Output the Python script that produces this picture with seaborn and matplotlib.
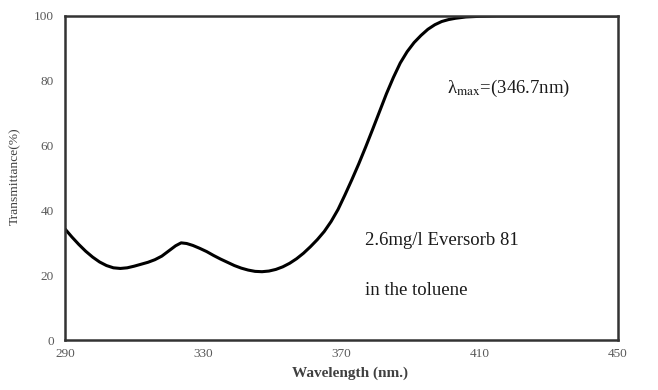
import matplotlib
matplotlib.use('Agg')
import matplotlib.pyplot as plt
import seaborn as sns
import pandas as pd

# Transmittance curve
wavelength = [290, 292, 294, 296, 298, 300, 302, 304, 306, 308, 310, 312, 314,
              316, 318, 320, 322, 323.6, 325.2, 327, 329, 331, 333, 335, 337, 339,
              341, 343, 345, 347, 349, 351, 353, 355, 357, 359, 361, 363, 365,
              367, 369, 371, 373, 375, 377, 379, 381, 383, 385, 387, 389, 391,
              393, 395, 397, 399, 401, 403, 406, 410, 415, 430, 450]
transmittance = [34.3, 31.8, 29.5, 27.4, 25.6, 24.1, 23.0, 22.3, 22.1, 22.3, 22.8,
                 23.4, 24.0, 24.8, 25.9, 27.5, 29.1, 30.0, 29.8, 29.2, 28.3, 27.3,
                 26.1, 25.0, 24.0, 23.0, 22.2, 21.6, 21.2, 21.1, 21.3, 21.8, 22.6,
                 23.7, 25.1, 26.8, 28.8, 31.0, 33.5, 36.6, 40.3, 44.8, 49.5, 54.4,
                 59.6, 65.0, 70.5, 76.0, 81.0, 85.5, 89.0, 91.8, 94.0, 95.9, 97.3,
                 98.3, 98.9, 99.3, 99.7, 99.9, 100, 100, 100]
x_ticks = [290, 330, 370, 410, 450]
y_ticks = [0, 20, 40, 60, 80, 100]

df = pd.DataFrame({'wavelength': wavelength, 'transmittance': transmittance})

sns.set_style('white')
plt.rcParams['font.family'] = ['Liberation Serif', 'DejaVu Serif']
plt.rcParams['mathtext.fontset'] = 'stix'

fig = plt.figure(figsize=(6.58, 3.9), dpi=100)
ax = fig.add_axes([0.0988, 0.128, 0.8404, 0.831])

sns.lineplot(data=df, x='wavelength', y='transmittance', ax=ax,
             color='black', linewidth=2.2)
ax.lines[0].set_solid_joinstyle('round')

ax.set_xlim(290, 450)
ax.set_ylim(0, 100)
ax.set_xticks(x_ticks)
ax.set_yticks(y_ticks)
ax.tick_params(axis='both', length=0, labelsize=9.5, labelcolor='#595959')
ax.tick_params(axis='x', pad=6)
ax.tick_params(axis='y', pad=8)

for s in ax.spines.values():
    s.set_visible(True)
    s.set_color('#333333')
    s.set_linewidth(1.8)

ax.set_xlabel('Wavelength (nm.)', fontsize=11, fontweight='bold', color='#404040')
ax.set_ylabel('Transmittance(%)', fontsize=9.7, color='#404040')
ax.xaxis.set_label_coords(0.516, -0.083)
ax.yaxis.set_label_coords(-0.080, 0.506)

ax.text(400.5, 77.8, 'λ$_{\\mathrm{max}}$=(346.7nm)', fontsize=13.5, color='#1a1a1a',
        va='center')
ax.text(376.8, 30.8, '2.6mg/l Eversorb 81', fontsize=13.5, color='#1a1a1a', va='center')
ax.text(376.8, 15.4, 'in the toluene', fontsize=13.5, color='#1a1a1a', va='center')

fig.savefig('out.png', dpi=100, facecolor='white')
